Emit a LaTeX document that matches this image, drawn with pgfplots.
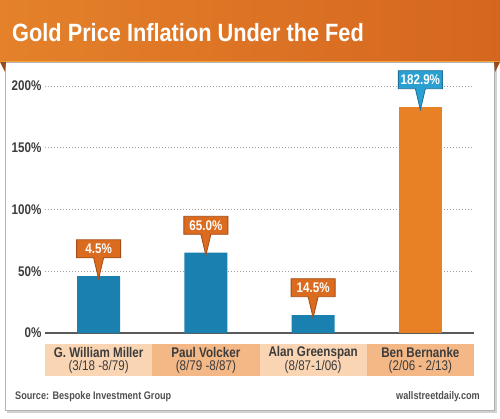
\documentclass[border=0pt]{standalone}
\usepackage{pgfplots}
\pgfplotsset{compat=1.18}
\usetikzlibrary{shapes.callouts}
\usepackage{fontspec}
\setmainfont{Liberation Sans}
\newfontfamily\cond[FakeStretch=0.83]{Liberation Sans}
\newfontfamily\titlef[FakeStretch=0.87]{Liberation Sans}
\definecolor{titleL}{HTML}{E4812A}
\definecolor{titleR}{HTML}{D5661F}
\definecolor{titleline}{HTML}{F3A53B}
\definecolor{tabbrown}{HTML}{9A4A1A}
\definecolor{barblue}{HTML}{1A80B0}
\definecolor{barorange}{HTML}{E88025}
\definecolor{cofill}{HTML}{DA6B1F}
\definecolor{codraw}{HTML}{A44D16}
\definecolor{cbfill}{HTML}{2AA0D2}
\definecolor{cbdraw}{HTML}{1E7099}
\definecolor{peachL}{HTML}{FAD5B3}
\definecolor{peachD}{HTML}{F4B887}
\definecolor{labelgray}{HTML}{3C3C3C}
\definecolor{axisgray}{HTML}{5A5A5A}
\definecolor{srcgray}{HTML}{505050}
\tikzset{
  callbase/.style={rectangle callout, line width=0.8pt, text=white,
    font=\cond\bfseries\fontsize{14}{14}\selectfont,
    minimum width=44pt, minimum height=18pt, inner sep=2pt,
    anchor=south, yshift=18pt, callout relative pointer={(0pt,-21pt)},
    callout pointer width=10pt},
  callorange/.style={callbase, fill=cofill, draw=codraw},
  callblue/.style={callbase, fill=cbfill, draw=cbdraw},
}
\begin{document}
\begin{tikzpicture}[x=1pt,y=1pt]
\path[use as bounding box] (0,0) rectangle (500,418);
\fill[white] (0,0) rectangle (500,418);
% panel
\fill[black!18] (7,5) rectangle (497,354);
\fill[white, draw=black!30, line width=0.8pt] (5,8) rectangle (494,356);
% title bar
\shade[left color=titleL, right color=titleR] (0,356) rectangle (500,418);
\draw[titleline, line width=1pt] (0,356.5) -- (500,356.5);
\fill[tabbrown] (0,356) -- (6,356) -- (5,346) -- cycle;
\fill[tabbrown] (494,356) -- (500,356) -- (495,346) -- cycle;
\node[anchor=base west, inner sep=0, text=white,
  font=\titlef\bfseries\fontsize{25}{25}\selectfont] at (12,376)
  {Gold Price Inflation Under the Fed};
% category boxes
\fill[peachL] (45,42) rectangle (152.25,74);
\fill[peachD] (152.25,42) rectangle (259.5,74);
\fill[peachL] (259.5,42) rectangle (366.75,74);
\fill[peachD] (366.75,42) rectangle (474,74);
\begin{axis}[
  at={(45pt,85pt)}, anchor=south west,
  scale only axis, width=429pt, height=247pt,
  xmin=-0.5, xmax=3.5, ymin=0, ymax=200,
  clip=false,
  axis x line*=bottom, axis y line*=left,
  y axis line style={draw=none},
  x axis line style={-, draw=axisgray, line width=1.3pt},
  ytick={0,50,100,150,200},
  yticklabels={0\%,50\%,100\%,150\%,200\%},
  ytick style={draw=none},
  yticklabel style={font=\cond\bfseries\fontsize{14}{14}\selectfont, text=labelgray},
  ymajorgrids,
  grid style={draw=gray!75, line width=0.7pt, dash pattern=on 1pt off 2pt},
  xtick={0,1,2,3},
  xticklabels={
    {G. William Miller\\{\mdseries (3/18 -8/79)}},
    {Paul Volcker\\{\mdseries (8/79 -8/87)}},
    {Alan Greenspan\\{\mdseries (8/87-1/06)}},
    {Ben Bernanke\\{\mdseries (2/06 - 2/13)}}},
  xtick style={draw=none},
  xticklabel style={anchor=center, yshift=-27pt, align=center,
    font=\cond\bfseries\fontsize{14}{13}\selectfont, text=labelgray},
  extra x ticks={-0.5,0.5,1.5,2.5,3.5},
  extra x tick labels={},
  extra x tick style={major tick length=12pt, tick align=center,
    tick style={draw=axisgray, line width=1.3pt}},
]
\addplot[ybar, bar width=43pt, fill=barblue, draw=none,
  nodes near coords, point meta=explicit symbolic,
  every node near coord/.append style={callorange}]
  coordinates {(0,46) [4.5\%] (1,65) [65.0\%] (2,14.5) [14.5\%]};
\addplot[ybar, bar width=43pt, fill=barorange, draw=none,
  nodes near coords, point meta=explicit symbolic,
  every node near coord/.append style={callblue}]
  coordinates {(3,182.9) [182.9\%]};
\end{axis}
\node[anchor=base west, inner sep=0, text=srcgray,
  font=\cond\bfseries\fontsize{11}{11}\selectfont] at (15,19)
  {Source: Bespoke Investment Group};
\node[anchor=base east, inner sep=0, text=srcgray,
  font=\cond\bfseries\fontsize{11}{11}\selectfont] at (480,19)
  {wallstreetdaily.com};
\end{tikzpicture}
\end{document}
